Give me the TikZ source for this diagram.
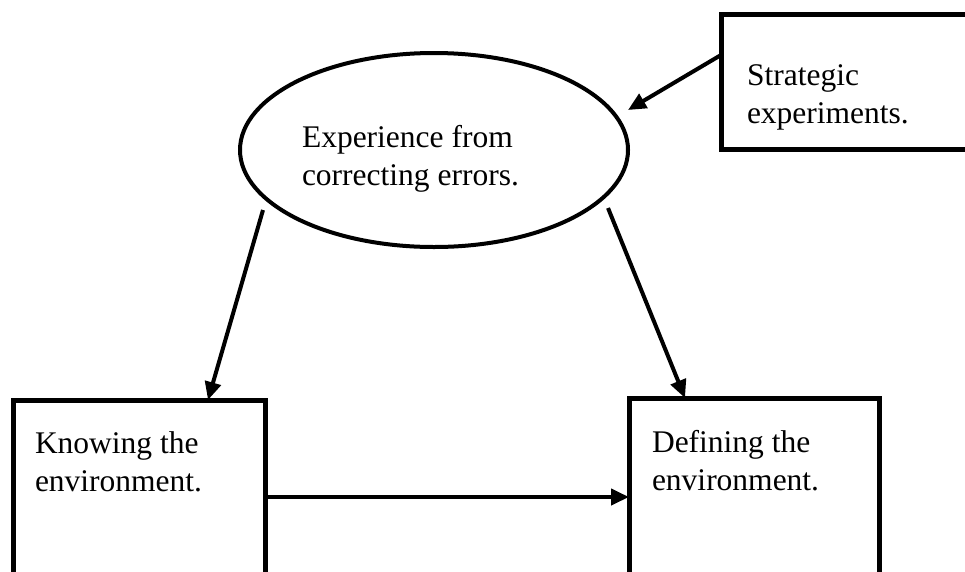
\documentclass[tikz,border=0pt]{standalone}
\usepackage{fontspec}
\setmainfont{Liberation Serif}
\usetikzlibrary{shapes.geometric,arrows.meta}
\begin{document}
\begin{tikzpicture}[x=1pt,y=-1pt,
  every node/.style={font=\fontsize{31.5}{38}\selectfont, outer sep=0pt},
  box/.style={draw, line width=5pt, rectangle, align=flush left, inner ysep=10pt, anchor=north west},
  link/.style={line width=4pt, -{Triangle[length=18pt,width=16pt]}},
]
\useasboundingbox (0,0) rectangle (965,571);
\clip (0,0) rectangle (965,571);

% central ellipse
\node[draw, ellipse, line width=4pt, minimum width=388pt, minimum height=194pt,
      inner sep=0pt, align=flush left, text width=264pt, text height=50pt, text depth=56pt]
  (ell) at (434,150) {Experience from\\correcting errors.};

% boxes (the lower two and the right one run past the page edge)
\node[box, inner xsep=26pt, text width=300pt, text height=61pt, text depth=54pt]
  (strat) at (721,14) {Strategic\\experiments.};
\node[box, inner xsep=22pt, text width=208pt, text height=43pt, text depth=157pt]
  (know) at (13,400) {Knowing the\\environment.};
\node[box, inner xsep=23pt, text width=204pt, text height=44pt, text depth=157pt]
  (def) at (629,398) {Defining the\\environment.};

% connectors
\draw[link] ([yshift=26.5pt]strat.west) -- ([yshift=40pt]ell.east);
\draw[link] ([shift={(-171pt,-60pt)}]ell.center) -- ([xshift=69pt]know.north);
\draw[link] ([shift={(174pt,-58pt)}]ell.center) -- ([xshift=-69pt]def.north);
\coordinate (k) at ([yshift=13pt]know.east);
\draw[link] (k) -- (k -| def.west);
\end{tikzpicture}
\end{document}
